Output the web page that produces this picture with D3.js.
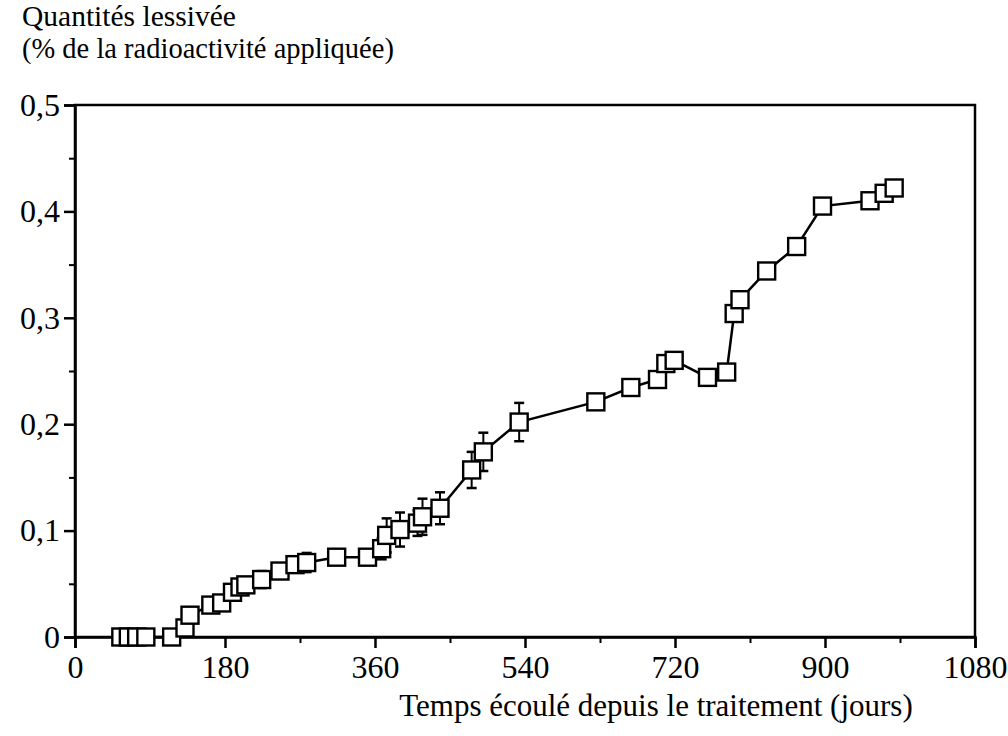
<!DOCTYPE html>
<html><head><meta charset="utf-8">
<script src="https://cdn.jsdelivr.net/npm/d3@7"></script>
<style>body{margin:0;background:#fff}svg{display:block}text{font-family:"Liberation Serif","Times New Roman",serif;fill:#000}</style>
</head><body><div id="c"></div>
<script>
const days = [55, 64, 74, 85, 116, 132, 138, 163, 176, 189, 198, 205, 224, 246, 264, 278, 314, 351, 368, 374, 390, 411, 417, 438, 476, 490, 533, 625, 667, 699, 709, 719, 759, 782, 791, 798, 830, 866, 897, 954, 971, 983];
const leached = [0, 0, 0, 0, 0, 0.0085, 0.0205, 0.030, 0.032, 0.042, 0.047, 0.049, 0.054, 0.062, 0.068, 0.070, 0.075, 0.075, 0.083, 0.0955, 0.101, 0.107, 0.113, 0.121, 0.157, 0.174, 0.202, 0.221, 0.2345, 0.242, 0.257, 0.260, 0.244, 0.249, 0.304, 0.317, 0.344, 0.367, 0.405, 0.410, 0.417, 0.422];
const errors = [0, 0, 0, 0, 0, 0, 0, 0, 0, 0, 0, 0, 0.008, 0, 0, 0.009, 0, 0, 0.01, 0.016, 0.016, 0.012, 0.017, 0.015, 0.017, 0.018, 0.018, 0, 0, 0, 0, 0, 0, 0, 0, 0, 0, 0, 0, 0, 0, 0];
const xTicks = [0, 180, 360, 540, 720, 900, 1080];
const xMinor = [90, 270, 450, 630, 810, 990];
const yTicks = [0, 0.1, 0.2, 0.3, 0.4, 0.5];
const yTickLabels = ["0", "0,1", "0,2", "0,3", "0,4", "0,5"];
const yMinor = [0.05, 0.15, 0.25, 0.35, 0.45];
const yTitle = ["Quantités lessivée", "(% de la radioactivité appliquée)"];
const xTitle = "Temps écoulé depuis le traitement (jours)";

const W = 1008, H = 736;
const svg = d3.select("#c").append("svg").attr("width", W).attr("height", H);
const x = d3.scaleLinear().domain([0, 1080]).range([75, 975]);
const y = d3.scaleLinear().domain([0, 0.5]).range([637, 105]);

// frame
svg.append("rect").attr("x", x(0)).attr("y", y(0.5)).attr("width", x(1080) - x(0)).attr("height", y(0) - y(0.5))
  .attr("fill", "none").attr("stroke", "#000").attr("stroke-width", 2.5);

// x axis
const xAxis = d3.axisBottom(x).tickValues(xTicks).tickSize(11).tickPadding(3).tickFormat(d => d);
const gx = svg.append("g").attr("transform", `translate(0,${y(0)})`).call(xAxis);
gx.select(".domain").attr("stroke-width", 2.5);
gx.selectAll(".tick line").attr("stroke-width", 2.5);
gx.selectAll(".tick text").style("font-size", "32px").attr("dy", "0.85em");
svg.append("g").attr("transform", `translate(0,${y(0)})`).call(d3.axisBottom(x).tickValues(xMinor).tickSize(6).tickFormat(""))
  .call(g => { g.select(".domain").remove(); g.selectAll("line").attr("stroke-width", 2); });

// y axis
const yAxis = d3.axisLeft(y).tickValues(yTicks).tickSize(11).tickPadding(4).tickFormat((d, i) => yTickLabels[i]);
const gy = svg.append("g").attr("transform", `translate(${x(0)},0)`).call(yAxis);
gy.select(".domain").attr("stroke-width", 2.5);
gy.selectAll(".tick line").attr("stroke-width", 2.5);
gy.selectAll(".tick text").style("font-size", "32px");
svg.append("g").attr("transform", `translate(${x(0)},0)`).call(d3.axisLeft(y).tickValues(yMinor).tickSize(6).tickFormat(""))
  .call(g => { g.select(".domain").remove(); g.selectAll("line").attr("stroke-width", 2); });

// titles
svg.append("text").attr("x", 22).attr("y", 26).style("font-size", "29.5px").text(yTitle[0]);
svg.append("text").attr("x", 22).attr("y", 58).style("font-size", "28.5px").text(yTitle[1]);
svg.append("text").attr("x", 656).attr("y", 716).attr("text-anchor", "middle").style("font-size", "31px").text(xTitle);

const data = days.map((d, i) => ({d, v: leached[i], e: errors[i]}));

// error bars
const eb = svg.append("g").attr("stroke", "#000").attr("stroke-width", 2);
data.filter(p => p.e > 0).forEach(p => {
  const cx = x(p.d);
  eb.append("line").attr("x1", cx).attr("x2", cx).attr("y1", y(p.v + p.e)).attr("y2", y(p.v - p.e));
  eb.append("line").attr("x1", cx - 5).attr("x2", cx + 5).attr("y1", y(p.v + p.e)).attr("y2", y(p.v + p.e)).attr("stroke-width", 2.5);
  eb.append("line").attr("x1", cx - 5).attr("x2", cx + 5).attr("y1", y(p.v - p.e)).attr("y2", y(p.v - p.e)).attr("stroke-width", 2.5);
});

// line
svg.append("path").datum(data).attr("fill", "none").attr("stroke", "#000").attr("stroke-width", 2.5)
  .attr("d", d3.line().x(p => x(p.d)).y(p => y(p.v)));

// markers
const s = 17;
svg.append("g").selectAll("rect").data(data).join("rect")
  .attr("x", p => x(p.d) - s / 2).attr("y", p => y(p.v) - s / 2).attr("width", s).attr("height", s)
  .attr("fill", "#fff").attr("stroke", "#000").attr("stroke-width", 2.4);
</script></body></html>
